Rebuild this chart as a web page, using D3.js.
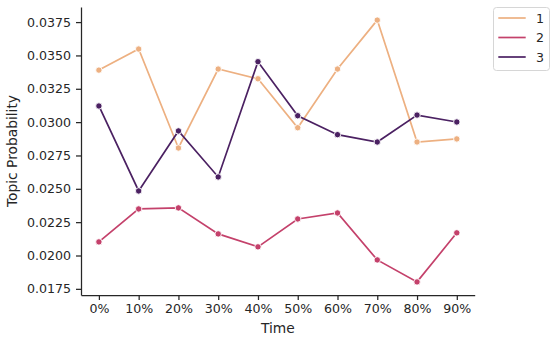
<!DOCTYPE html>
<html lang="en">
<head>
<meta charset="utf-8">
<title>Topic Probability over Time</title>
<script src="https://cdn.jsdelivr.net/npm/d3@7"></script>
<style>
  body { margin: 0; background: #fff; }
  svg text { font-family: "DejaVu Sans", sans-serif; fill: #262626; }
  .axis path, .axis line { stroke: #262626; stroke-width: 1.25; }
</style>
</head>
<body>
<script>
// categories on the x axis
const timeLabels = ["0%", "10%", "20%", "30%", "40%", "50%", "60%", "70%", "80%", "90%"];
// topic series
const topic1 = [0.03390, 0.03548, 0.02806, 0.03398, 0.03325, 0.02958, 0.03398, 0.03765, 0.02851, 0.02874];
const topic2 = [0.02102, 0.02349, 0.02357, 0.02162, 0.02065, 0.02274, 0.02319, 0.01967, 0.01802, 0.02170];
const topic3 = [0.03121, 0.02484, 0.02934, 0.02589, 0.03453, 0.03048, 0.02906, 0.02851, 0.03053, 0.03001];
const seriesNames = ["1", "2", "3"];
const yTicks = [0.0175, 0.0200, 0.0225, 0.0250, 0.0275, 0.0300, 0.0325, 0.0350, 0.0375];

const colors = ["#edb081", "#c4416b", "#4b2162"];
const series = [topic1, topic2, topic3];

let w = 556, h = 343;
let padL = 81, padR = 474.7, padT = 7, padB = 295;

let svg = d3.select("body").append("svg")
  .attr("width", w)
  .attr("height", h);

// matplotlib style 5% margins
let allVals = series.flat();
let ymin = d3.min(allVals), ymax = d3.max(allVals);
let pad = (ymax - ymin) * 0.05;

let xScale = d3.scaleLinear()
  .domain([-0.45, timeLabels.length - 1 + 0.45])
  .range([padL, padR]);

let yScale = d3.scaleLinear()
  .domain([ymin - pad, ymax + pad])
  .range([padB, padT]);

let xAxis = d3.axisBottom(xScale)
  .tickValues(d3.range(timeLabels.length))
  .tickFormat(i => timeLabels[i])
  .tickSizeInner(5).tickSizeOuter(0).tickPadding(4);

let yAxis = d3.axisLeft(yScale)
  .tickValues(yTicks)
  .tickFormat(d3.format(".4f"))
  .tickSizeInner(5).tickSizeOuter(0).tickPadding(5);

let gx = svg.append("g")
  .attr("class", "axis")
  .attr("transform", "translate(0," + padB + ")")
  .call(xAxis);
gx.selectAll("text").style("font-size", "12.6px");

let gy = svg.append("g")
  .attr("class", "axis")
  .attr("transform", "translate(" + padL + ",0)")
  .call(yAxis);
gy.selectAll("text").style("font-size", "12.6px");

// axis titles
svg.append("text")
  .attr("x", (padL + padR) / 2)
  .attr("y", 333)
  .attr("text-anchor", "middle")
  .style("font-size", "13.8px")
  .text("Time");

svg.append("text")
  .attr("transform", "translate(17," + ((padT + padB) / 2) + ") rotate(-90)")
  .attr("text-anchor", "middle")
  .style("font-size", "13.8px")
  .text("Topic Probability");

let line = d3.line()
  .x((d, i) => xScale(i))
  .y(d => yScale(d));

series.forEach((vals, k) => {
  svg.append("path")
    .datum(vals)
    .attr("fill", "none")
    .attr("stroke", colors[k])
    .attr("stroke-width", 1.7)
    .attr("d", line);

  svg.append("g").selectAll("circle")
    .data(vals)
    .enter()
    .append("circle")
    .attr("cx", (d, i) => xScale(i))
    .attr("cy", d => yScale(d))
    .attr("r", 3.2)
    .attr("fill", colors[k])
    .attr("stroke", "#fff")
    .attr("stroke-width", 0.9);
});

// legend
let legend = svg.append("g");
legend.append("rect")
  .attr("x", 493.5).attr("y", 7.5)
  .attr("width", 56).attr("height", 63)
  .attr("rx", 3)
  .attr("fill", "#fff").attr("fill-opacity", 0.8)
  .attr("stroke", "#d6d6d6");

seriesNames.forEach((name, k) => {
  let yy = 18 + k * 19.5;
  legend.append("line")
    .attr("x1", 498.3).attr("x2", 525.7)
    .attr("y1", yy).attr("y2", yy)
    .attr("stroke", colors[k])
    .attr("stroke-width", 1.7);
  legend.append("text")
    .attr("x", 536)
    .attr("y", yy + 4.5)
    .style("font-size", "12.6px")
    .text(name);
});
</script>
</body>
</html>
